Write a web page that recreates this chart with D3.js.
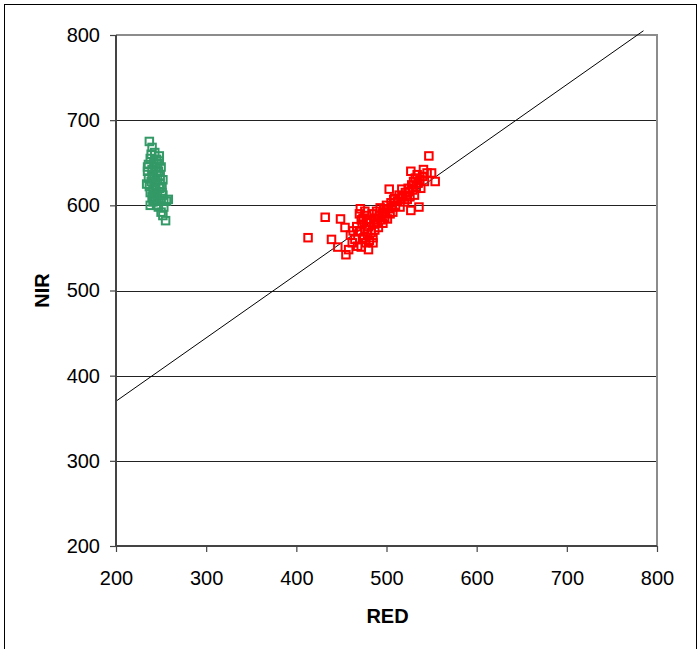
<!DOCTYPE html>
<html><head><meta charset="utf-8">
<script src="https://cdn.jsdelivr.net/npm/d3@7"></script>
<style>body{margin:0;background:#fff}svg{display:block}</style>
</head><body>
<svg id="c" width="698" height="649"></svg>
<script>
// ---- data ----
const xTicks = [200, 300, 400, 500, 600, 700, 800];
const yTicks = [200, 300, 400, 500, 600, 700, 800];
const xLabel = "RED";
const yLabel = "NIR";
const greenRED = [237,240,243,238,236,242,245,248,235,240,244,247,250,236,239,242,246,249,252,237,241,244,248,251,240,243,246,250,253,258,247,250,252,255,245,238,242,249,245,243,246,240,251,244,247,253,256,235,238,241,234,239,248,252];
const greenNIR = [675,668,662,655,648,650,654,652,640,642,645,640,645,632,628,636,630,635,630,622,618,624,620,615,610,605,612,608,605,607,598,592,588,582,600,615,612,625,640,628,648,635,622,615,605,598,605,645,600,604,625,660,658,612];
const redRED = [413,432,449,439,454,455,446,458,462,460,465,468,470,471,472,473,474,475,476,477,478,479,480,481,482,483,484,485,486,487,488,489,490,491,492,493,494,495,496,497,498,499,500,501,502,503,504,505,506,507,508,509,510,512,514,515,516,517,518,520,521,522,523,524,525,526,527,527,528,529,530,531,532,533,534,535,536,537,538,540,541,542,545,547,550,554,472,467,476,480,485,463,470,474,478,496];
const redNIR = [562,586,584,560,574,542,551,548,556,565,560,552,570,596,551,578,585,562,572,556,588,566,575,559,583,568,590,562,578,571,585,593,580,574,588,597,583,590,579,595,586,592,600,584,596,619,590,603,598,592,607,608,600,605,612,598,608,619,610,604,615,612,607,620,616,610,594,640,624,618,628,612,632,622,636,626,598,630,620,634,642,628,638,658,638,628,583,575,593,548,556,570,590,560,580,592];
const lineRED = [200, 785];
const lineNIR = [370, 805];

// ---- layout ----
const svg = d3.select("#c");
const L = 116, R = 657, T = 35, B = 546;
const x = d3.scaleLinear().domain([200, 800]).range([L, R]);
const y = d3.scaleLinear().domain([200, 800]).range([B, T]);
const FONT = "Liberation Sans, Arial, sans-serif";

// outer border
svg.append("rect").attr("x", 4.5).attr("y", 4.5).attr("width", 692).attr("height", 660)
  .attr("fill", "none").attr("stroke", "#000").attr("stroke-width", 1);

// gridlines
svg.append("g").selectAll("line").data(yTicks.filter(d => d > 200 && d < 800)).join("line")
  .attr("x1", L).attr("x2", R).attr("y1", d => Math.round(y(d)) + 0.5).attr("y2", d => Math.round(y(d)) + 0.5)
  .attr("stroke", "#222").attr("stroke-width", 1);

// plot frame top/right
svg.append("path").attr("d", `M${L},${T}H${R}V${B}`).attr("fill", "none")
  .attr("stroke", "#8c8c8c").attr("stroke-width", 2);

// soil line
svg.append("line")
  .attr("x1", x(lineRED[0])).attr("y1", y(lineNIR[0]))
  .attr("x2", x(lineRED[1])).attr("y2", y(lineNIR[1]))
  .attr("stroke", "#000").attr("stroke-width", 1);

// points
const sz = 7.5;
svg.append("g").selectAll("rect").data(greenRED.map((v, i) => [v, greenNIR[i]])).join("rect")
  .attr("x", d => x(d[0]) - sz / 2).attr("y", d => y(d[1]) - sz / 2)
  .attr("width", sz).attr("height", sz)
  .attr("fill", "none").attr("stroke", "#339966").attr("stroke-width", 2);
svg.append("g").selectAll("rect").data(redRED.map((v, i) => [v, redNIR[i]])).join("rect")
  .attr("x", d => x(d[0]) - sz / 2).attr("y", d => y(d[1]) - sz / 2)
  .attr("width", sz).attr("height", sz)
  .attr("fill", "none").attr("stroke", "#ff0000").attr("stroke-width", 2);

// axes
const xAxis = d3.axisBottom(x).tickValues(xTicks).tickSize(6).tickPadding(10).tickFormat(d3.format("d"));
const yAxis = d3.axisLeft(y).tickValues(yTicks).tickSize(6).tickPadding(10).tickFormat(d3.format("d"));
const gx = svg.append("g").attr("transform", `translate(0,${B})`).call(xAxis);
const gy = svg.append("g").attr("transform", `translate(${L},0)`).call(yAxis);
[gx, gy].forEach(g => {
  g.select(".domain").attr("stroke", "#444").attr("stroke-width", 2);
  g.selectAll(".tick line").attr("stroke", "#444").attr("stroke-width", 1.2);
  g.selectAll(".tick text").attr("fill", "#000").style("font-family", FONT).style("font-size", "20px");
});
gx.select(".domain").attr("d", `M${L},0H${R}`);
gy.select(".domain").attr("d", `M0,${B}V${T}`);
gx.selectAll(".tick text").attr("y", 39).attr("dy", null);

// axis titles
svg.append("text").attr("x", 387.5).attr("y", 623).attr("text-anchor", "middle")
  .style("font-family", FONT).style("font-size", "20px").style("font-weight", "bold")
  .text(xLabel);
svg.append("text").attr("transform", `translate(49,${(T + B) / 2}) rotate(-90)`).attr("text-anchor", "middle")
  .style("font-family", FONT).style("font-size", "20px").style("font-weight", "bold")
  .text(yLabel);
</script>
</body></html>
